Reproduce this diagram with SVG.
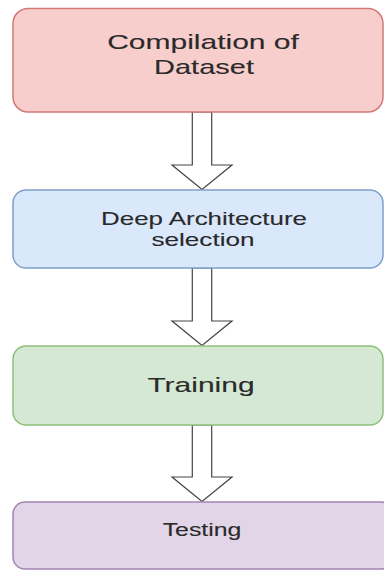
<svg xmlns="http://www.w3.org/2000/svg" width="384" height="578" viewBox="0 0 384 578">
<style>
.t{font-family:"Liberation Sans",Arial,sans-serif;fill:#2a2a2a;stroke:#2a2a2a;stroke-width:0.12;text-anchor:middle}
.b{stroke-width:1.5}
.arr{fill:#fff;stroke:#444;stroke-width:1.2;stroke-linejoin:miter}
</style>
<rect width="384" height="578" fill="#fff"/>
<g id="connectors">
<path class="arr" d="M192.3,112 H211.7 V165 H232 L202,189.5 L172,165 H192.3 Z"/>
<path class="arr" d="M192.3,268 H211.7 V321 H232 L202,345.5 L172,321 H192.3 Z"/>
<path class="arr" d="M192.3,425 H211.7 V477 H232 L202,501.5 L172,477 H192.3 Z"/>
</g>
<g id="n1">
<rect class="b" x="13" y="8.5" width="370" height="103.5" rx="15" fill="#f8cecc" stroke="#d07a76"/>
<text class="t" font-size="20" transform="translate(203,49) scale(1.5,1)">Compilation of</text>
<text class="t" font-size="20" transform="translate(204,74) scale(1.45,1)">Dataset</text>
</g>
<g id="n2">
<rect class="b" x="13" y="190" width="370" height="78" rx="13" fill="#dae8fc" stroke="#7f9fcc"/>
<text class="t" font-size="18" transform="translate(204,225) scale(1.44,1)">Deep Architecture</text>
<text class="t" font-size="18" transform="translate(203,246) scale(1.45,1)">selection</text>
</g>
<g id="n3">
<rect class="b" x="13" y="346" width="370" height="79" rx="13" fill="#d5e8d4" stroke="#8fc07a"/>
<text class="t" font-size="20" transform="translate(201,392) scale(1.5,1)">Training</text>
</g>
<g id="n4">
<rect class="b" x="13" y="502" width="380" height="67" rx="12" fill="#e1d5e7" stroke="#a485b3"/>
<text class="t" font-size="18" transform="translate(202,536) scale(1.38,1)">Testing</text>
</g>
</svg>
